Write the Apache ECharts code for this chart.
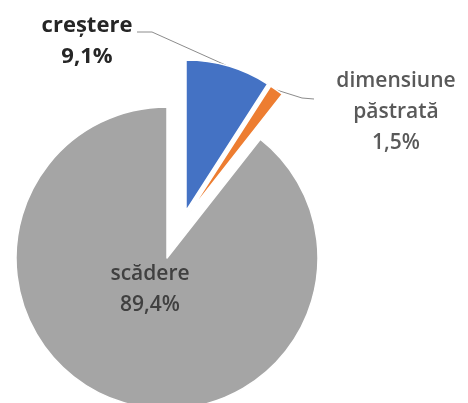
<!DOCTYPE html>
<html><head><meta charset="utf-8">
<script src="https://cdn.jsdelivr.net/npm/echarts@6/dist/echarts.min.js"></script>
<style>html,body{margin:0;padding:0;background:#fff}#c{width:468px;height:403px}</style>
</head><body><div id="c"></div>
<script>
const categories = ['creștere', 'dimensiune păstrată', 'scădere'];
const values = [9.1, 1.5, 89.4];
const colors = ['#4472C4', '#ED7D31', '#A5A5A5'];

// layout (pixels)
const R = 151;
const centers = [[186, 211], [189, 213], [167, 258]];
const labelPos = [[87, 41], [396, 112], [150, 290]];
const labelStyles = [
  { color: '#262626', fontWeight: 'bold', fontSize: 22 },
  { color: '#595959', fontWeight: 600, fontSize: 21 },
  { color: '#404040', fontWeight: 600, fontSize: 21 }
];

const total = values.reduce((a, b) => a + b, 0);
const fmt = v => v.toFixed(1).replace('.', ',') + '%';

function arcPoint(i, frac) {
  const c = centers[i];
  const a = frac / total * 2 * Math.PI;
  return [c[0] + R * Math.sin(a), c[1] - R * Math.cos(a)];
}

const series = categories.map((cat, i) => ({
  type: 'pie',
  silent: true,
  animation: false,
  startAngle: 90,
  clockwise: true,
  radius: R,
  center: centers[i],
  avoidLabelOverlap: false,
  label: {
    show: true,
    position: i === 2 ? 'inside' : 'outside',
    formatter: p => p.name.replace(' ', '\n') + '\n' + fmt(p.value),
    fontFamily: 'Open Sans',
    lineHeight: 31,
    align: 'center',
    ...labelStyles[i]
  },
  labelLine: { show: i !== 2, lineStyle: { color: '#8C8C8C', width: 1 } },
  labelLayout: params => {
    const out = { x: labelPos[i][0], y: labelPos[i][1], align: 'center', verticalAlign: 'middle' };
    if (i === 0) {
      out.labelLinePoints = [arcPoint(0, values[0]), [152, 32], [137, 32]];
    } else if (i === 1 && params.labelLinePoints) {
      out.labelLinePoints = [params.labelLinePoints[0], [302, 98], [314, 99]];
    }
    return out;
  },
  data: categories.map((c, j) => ({
    name: c,
    value: values[j],
    itemStyle: j === i
      ? { color: colors[j], borderColor: '#ffffff', borderWidth: 1.5 }
      : { color: 'rgba(0,0,0,0)', borderWidth: 0 },
    label: { show: j === i },
    labelLine: { show: j === i && i !== 2 }
  }))
}));

const chart = echarts.init(document.getElementById('c'), null, { renderer: 'canvas' });
chart.setOption({ backgroundColor: '#ffffff', animation: false, series });
</script></body></html>
